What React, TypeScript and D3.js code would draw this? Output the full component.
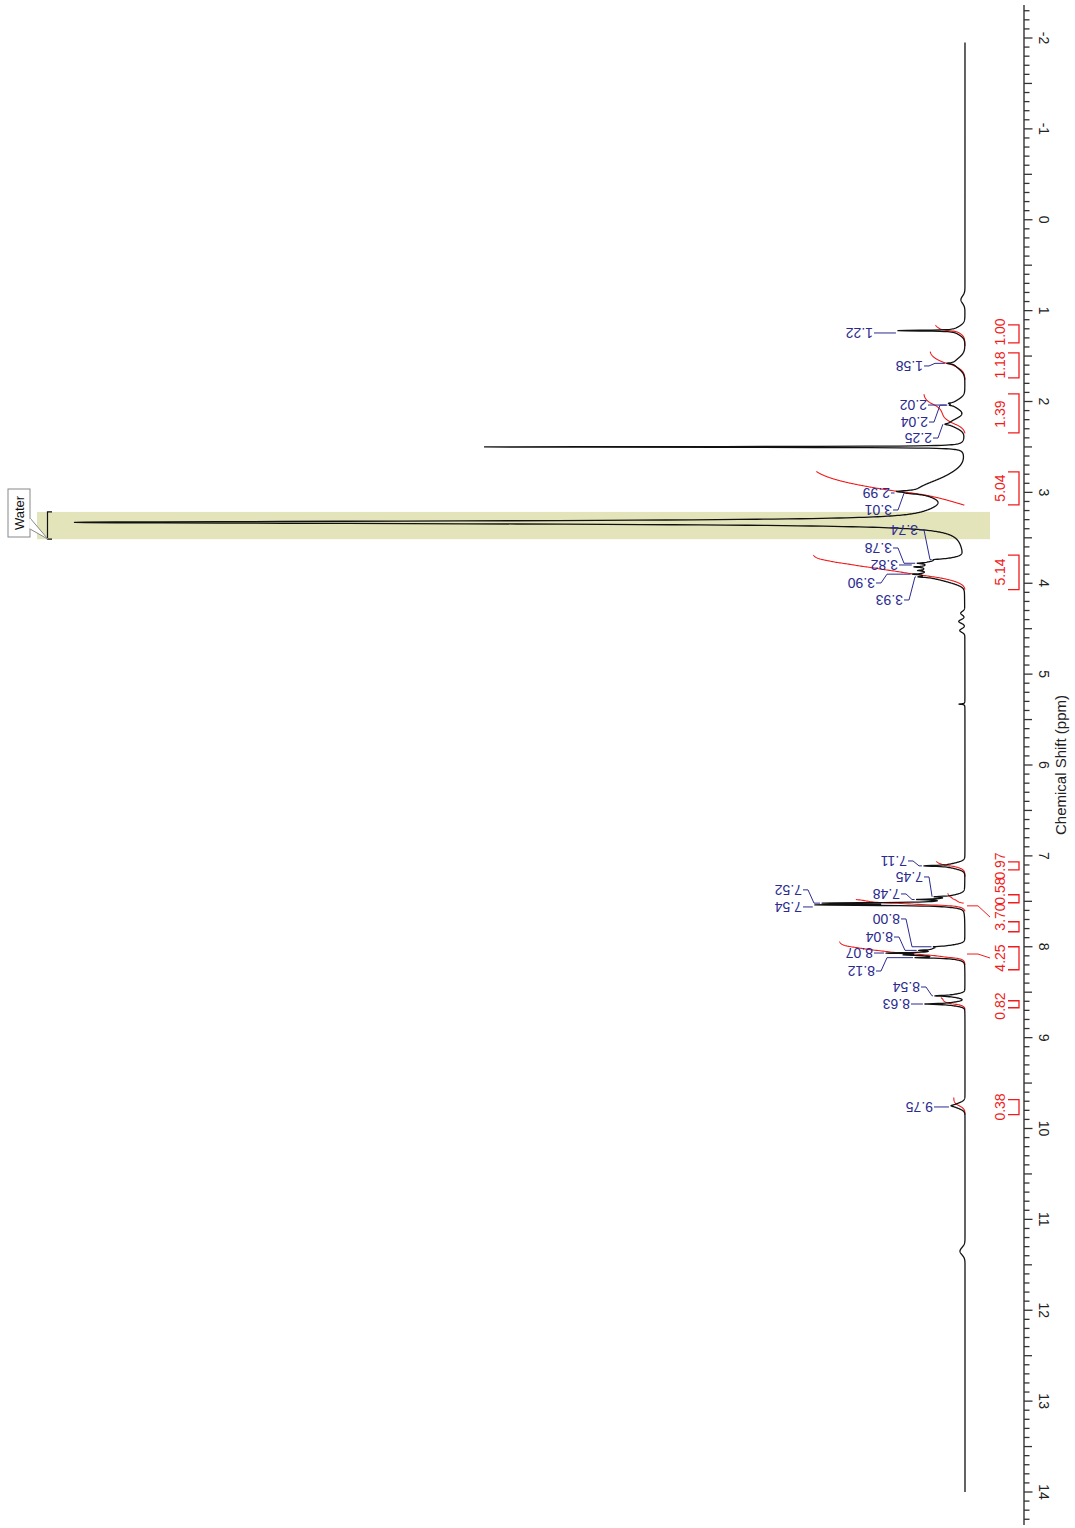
import React from 'react';
import * as d3 from 'd3';

const W = 1075;
const H = 1528;

// Sharp lines (Lorentzian): position (ppm), height, half-width (ppm)
const sharpPpm = [1.22, 1.58, 2.02, 2.04, 2.25, 2.5, 2.99, 3.01, 3.33, 3.74, 3.78, 3.82, 3.86, 3.9, 3.93, 5.33, 7.11, 7.45, 7.48, 7.52, 7.54, 8.0, 8.04, 8.07, 8.09, 8.12, 8.54, 8.63, 9.75];
const sharpHeight = [58, 8, 5, 4, 6, 480, 22, 12, 880, 8, 10, 12, 8, 12, 10, 6, 25, 15, 30, 110, 120, 8, 14, 45, 25, 30, 18, 25, 4];
const sharpWidth = [0.005, 0.008, 0.008, 0.008, 0.01, 0.004, 0.012, 0.012, 0.018, 0.008, 0.006, 0.006, 0.006, 0.006, 0.006, 0.004, 0.006, 0.006, 0.006, 0.006, 0.006, 0.005, 0.005, 0.006, 0.006, 0.006, 0.006, 0.006, 0.01];

// Broad bands (Gaussian): position (ppm), height, sigma (ppm)
const broadPpm = [0.88, 1.22, 1.58, 2.03, 2.24, 2.82, 2.97, 3.22, 3.77, 3.84, 3.91, 3.97, 4.33, 4.42, 4.52, 7.11, 7.46, 7.53, 8.02, 8.09, 8.54, 8.63, 9.75, 11.35];
const broadHeight = [4, 9, 10, 11, 14, 10, 40, 22, 30, 30, 30, 15, 4, 6, 5, 16, 14, 22, 28, 30, 12, 15, 10, 5];
const broadSigma = [0.04, 0.045, 0.06, 0.05, 0.05, 0.08, 0.085, 0.09, 0.035, 0.035, 0.035, 0.04, 0.02, 0.02, 0.02, 0.03, 0.03, 0.025, 0.03, 0.03, 0.02, 0.02, 0.03, 0.04];

// Peak labels
const peakLabels = ['1.22', '1.58', '2.02', '2.04', '2.25', '2.99', '3.01', '3.74', '3.78', '3.82', '3.90', '3.93', '7.11', '7.45', '7.48', '7.52', '7.54', '8.00', '8.04', '8.07', '8.12', '8.54', '8.63', '9.75'];
const peakLabelPpm = [1.246, 1.609, 2.039, 2.226, 2.402, 3.007, 3.194, 3.414, 3.612, 3.799, 3.997, 4.184, 7.056, 7.232, 7.419, 7.374, 7.562, 7.694, 7.893, 8.069, 8.267, 8.443, 8.63, 9.763];
const peakLabelLevel = [92, 42, 38, 37, 33, 75, 73, 47, 73, 67, 90, 62, 58, 42, 65, 163, 163, 65, 72, 92, 90, 45, 55, 32];

// Integrals
const integralValues = ['1.00', '1.18', '1.39', '5.04', '5.14', '0.97', '0.58', '3.70', '4.25', '0.82', '0.38'];
const integralFrom = [1.16, 1.45, 1.92, 2.77, 3.69, 7.06, 7.41, 7.48, 7.94, 8.56, 9.66];
const integralTo = [1.39, 1.76, 2.35, 3.14, 4.07, 7.23, 7.52, 7.61, 8.2, 8.69, 9.85];
const bracketFrom = [1.157, 1.465, 1.916, 2.774, 3.69, 7.065, 7.428, 7.725, 8.0, 8.594, 9.683];
const bracketTo = [1.355, 1.74, 2.345, 3.137, 4.07, 7.153, 7.516, 7.835, 8.253, 8.671, 9.848];
const integralLabelPpm = [1.235, 1.598, 2.138, 2.952, 3.876, 7.111, 7.387, 7.673, 8.124, 8.652, 9.763];
const integralLeaderPpm = [null, null, null, null, null, null, null, 7.55, 8.08, null, null];

// Axis
const tickLabels = ['-2', '-1', '0', '1', '2', '3', '4', '5', '6', '7', '8', '9', '10', '11', '12', '13', '14'];
const waterRange = [3.215, 3.515];

const FONT = '"Liberation Sans", Arial, Helvetica, sans-serif';
const NAVY = '#2b2b8f';
const RED = '#f01c1c';
const PX_PER_UNIT = 29.5;

function intensity(p: number): number {
  let s = 0;
  for (let i = 0; i < sharpPpm.length; i++) {
    const d = (p - sharpPpm[i]) / sharpWidth[i];
    s += sharpHeight[i] / (1 + d * d);
  }
  for (let i = 0; i < broadPpm.length; i++) {
    const d = (p - broadPpm[i]) / broadSigma[i];
    s += broadHeight[i] * Math.exp(-0.5 * d * d);
  }
  return s;
}

export default function App() {
  const y = d3.scaleLinear().domain([-2, 14]).range([38, 1492]);
  const x = d3.scaleLinear().domain([0, 905]).range([965, 60]);
  const axisX = 1024;

  const grid = d3.range(-1.95, 14.0001, 0.002);
  const spec = grid.map((p) => ({ p, v: intensity(p) }));
  const line = d3
    .line<{ p: number; v: number }>()
    .x((d) => x(d.v))
    .y((d) => y(d.p));
  const specPath = line(spec) || '';

  const integralPaths = integralValues.map((val, i) => {
    const lo = integralFrom[i];
    const hi = integralTo[i];
    const pts = d3.range(hi, lo - 0.0001, -0.002);
    const vals = pts.map((p) => intensity(p));
    const total = d3.sum(vals);
    let cum = 0;
    const data = pts.map((p, k) => {
      cum += vals[k];
      return { p, v: (+val * PX_PER_UNIT * cum) / total };
    });
    return line(data) || '';
  });

  const ticks = d3.range(-23, 144).map((k) => k / 10);

  return (
    <svg width={W} height={H} style={{ display: 'block', position: 'absolute', left: 0, top: 0 }} fontFamily={FONT}>
      <rect x={0} y={0} width={W} height={H} fill="#ffffff" />
      <rect
        x={x(928)}
        y={y(waterRange[0])}
        width={x(-25) - x(928)}
        height={y(waterRange[1]) - y(waterRange[0])}
        fill="#e4e4bb"
      />
      {integralPaths.map((d, i) => (
        <path key={'ic' + i} d={d} fill="none" stroke={RED} strokeWidth={1.1} />
      ))}
      <path d={specPath} fill="none" stroke="#111" strokeWidth={1.3} strokeLinejoin="round" />

      {peakLabels.map((t, i) => {
        const pp = +t;
        const yl = y(peakLabelPpm[i]);
        const yp = y(pp);
        const xt = x(peakLabelLevel[i]);
        const xp = x(intensity(pp)) - 2;
        let d: string;
        if (Math.abs(yl - yp) < 2.5) {
          d = `M${xt + 1},${yl}H${xp}`;
        } else {
          const xe = Math.min(xt + 12, xp);
          d = `M${xt + 1},${yl}H${xt + 6}L${xe},${yp}H${xp}`;
        }
        return (
          <g key={'pl' + i}>
            <path d={d} fill="none" stroke={NAVY} strokeWidth={1} />
            <text
              transform={`translate(${xt},${yl}) rotate(180)`}
              textAnchor="start"
              dominantBaseline="central"
              fontSize={14}
              fill={NAVY}
            >
              {t}
            </text>
          </g>
        );
      })}

      {integralValues.map((t, i) => {
        const y1 = y(bracketFrom[i]);
        const y2 = y(bracketTo[i]);
        const yl = y(integralLabelPpm[i]);
        const lp = integralLeaderPpm[i];
        return (
          <g key={'ib' + i}>
            <path d={`M1008,${y1}H1019V${y2}H1008`} fill="none" stroke={RED} strokeWidth={1.3} />
            {lp !== null && (
              <path
                d={`M${x(-2)},${y(lp)}H${x(-13)}L${x(-25)},${yl}`}
                fill="none"
                stroke={RED}
                strokeWidth={1}
              />
            )}
            <text
              transform={`translate(1000,${yl}) rotate(-90)`}
              textAnchor="middle"
              dominantBaseline="central"
              fontSize={14}
              fill={RED}
            >
              {t}
            </text>
          </g>
        );
      })}

      <line x1={axisX} x2={axisX} y1={5} y2={1525} stroke="#333" strokeWidth={1.4} />
      {ticks.map((t, i) => {
        const k = Math.round(t * 10);
        const len = k % 10 === 0 ? 8.5 : k % 5 === 0 ? 8 : 5.5;
        return <line key={'t' + i} x1={axisX} x2={axisX + len} y1={y(t)} y2={y(t)} stroke="#333" strokeWidth={1.3} />;
      })}
      {tickLabels.map((t, i) => (
        <text
          key={'tl' + i}
          transform={`translate(1044,${y(+t)}) rotate(90)`}
          textAnchor="middle"
          dominantBaseline="central"
          fontSize={14}
          fill="#222"
        >
          {t}
        </text>
      ))}
      <text
        transform={`translate(1060,765) rotate(-90)`}
        textAnchor="middle"
        dominantBaseline="central"
        fontSize={15}
        fill="#222"
      >
        Chemical Shift (ppm)
      </text>

      <path
        d={`M52,${y(waterRange[0])}H47.5V${y(waterRange[1])}H52`}
        fill="none"
        stroke="#111"
        strokeWidth={1.2}
      />
      <rect x={8} y={489} width={22} height={48} fill="#fff" stroke="#888" strokeWidth={1} />
      <path d={`M30,518L48,${y(waterRange[1])}L30,529`} fill="#fff" stroke="#888" strokeWidth={1} />
      <line x1={30} x2={30} y1={518.8} y2={528.2} stroke="#fff" strokeWidth={1.6} />
      <text
        transform={`translate(19.5,513) rotate(-90)`}
        textAnchor="middle"
        dominantBaseline="central"
        fontSize={13}
        fill="#111"
      >
        Water
      </text>
    </svg>
  );
}
